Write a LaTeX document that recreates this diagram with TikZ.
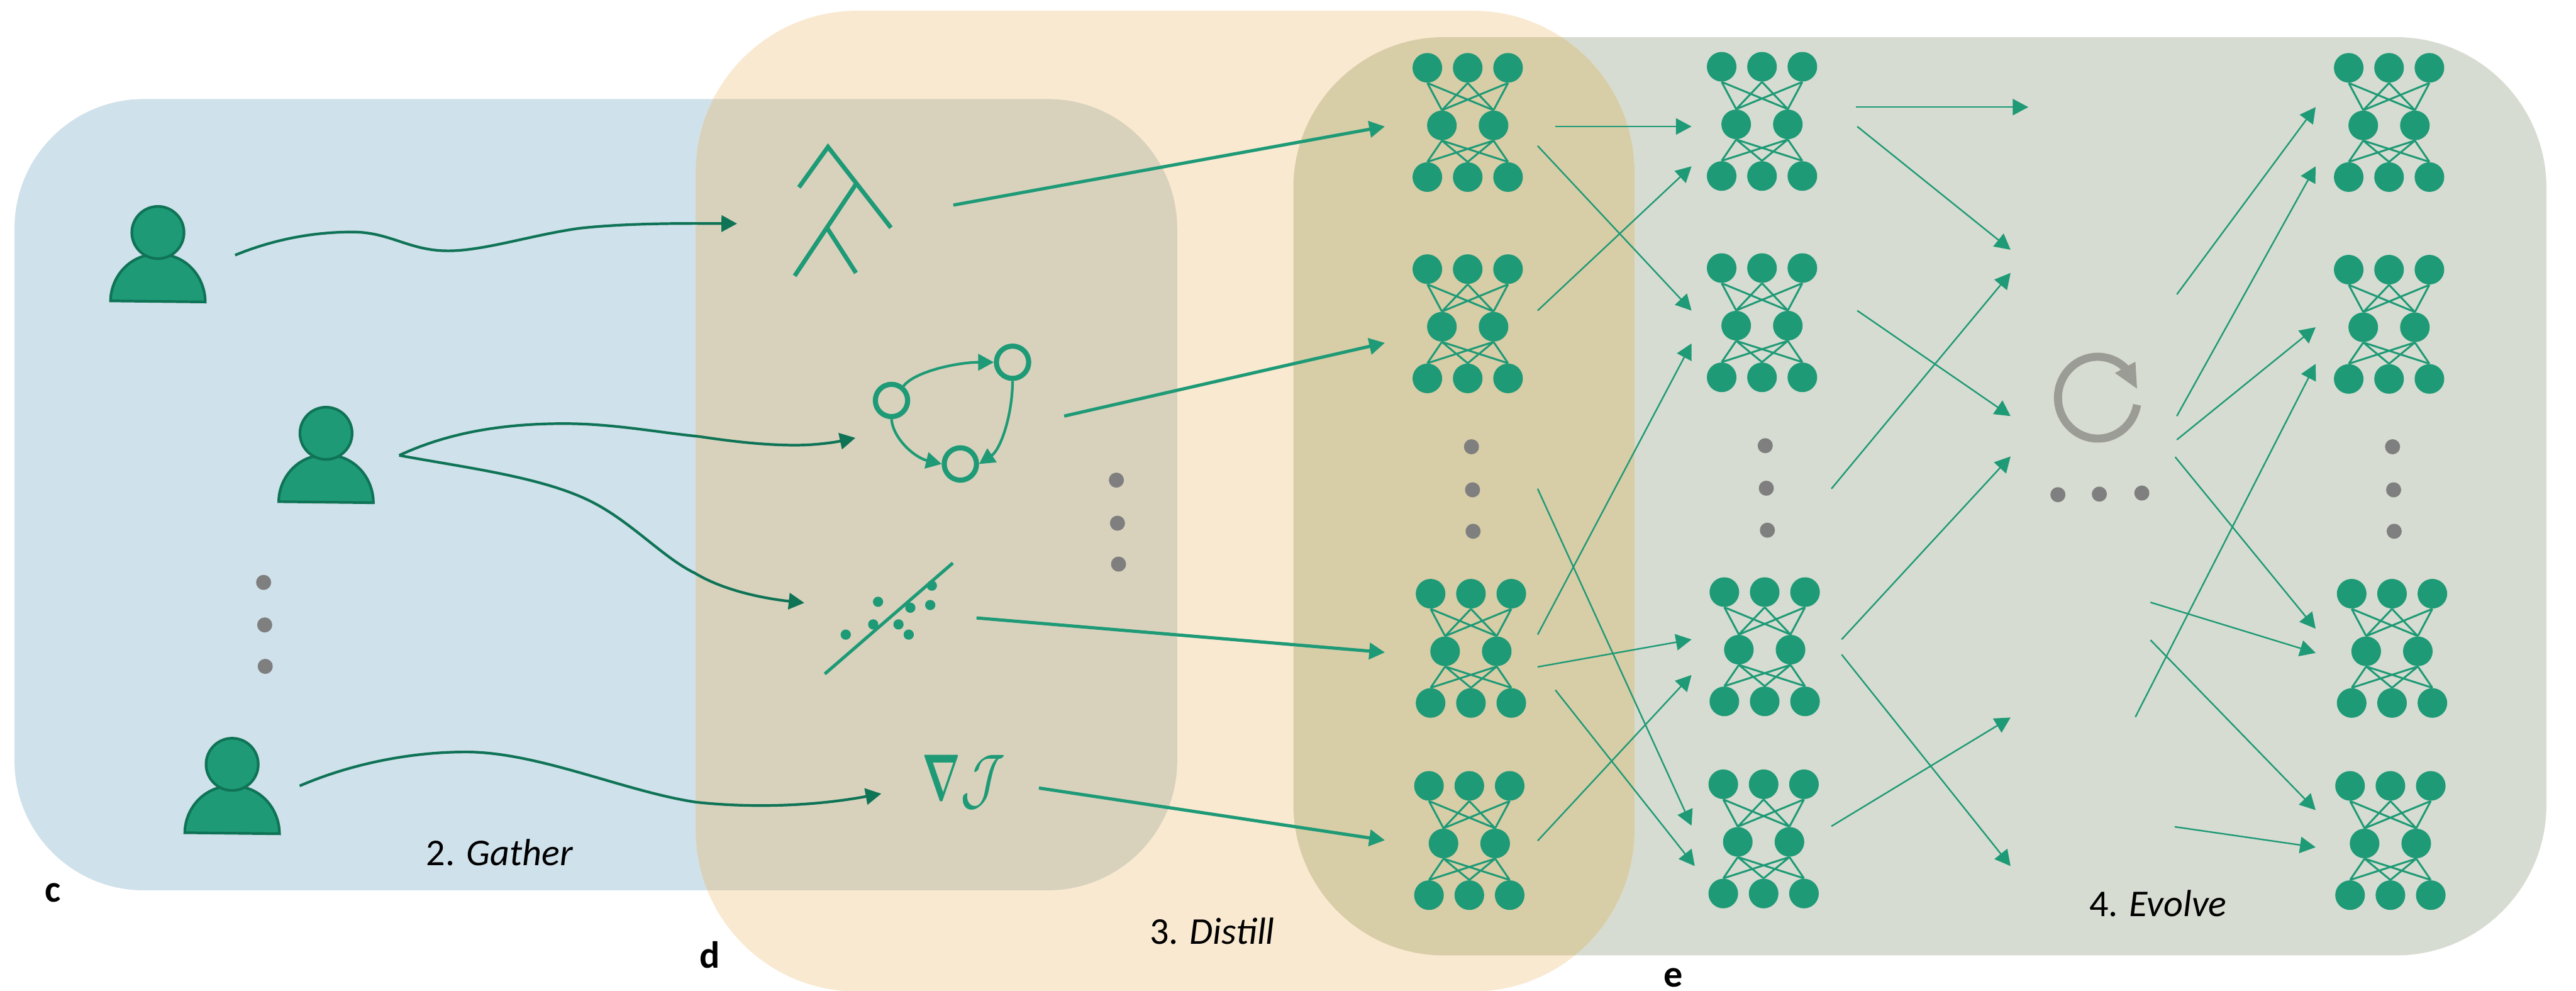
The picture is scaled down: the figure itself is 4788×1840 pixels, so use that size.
\documentclass[tikz,border=0pt]{standalone}
\usepackage{fontspec}
\setmainfont{Carlito}
\usetikzlibrary{arrows.meta}
\definecolor{cblue}{RGB}{207,225,235}
\definecolor{corange}{RGB}{249,233,209}
\definecolor{cgreen}{RGB}{214,220,209}
\definecolor{cbo}{RGB}{216,210,189}
\definecolor{cog}{RGB}{215,205,167}
\definecolor{teal}{RGB}{30,154,118}
\definecolor{darkteal}{RGB}{15,115,85}
\definecolor{dotgray}{RGB}{127,127,127}
\definecolor{loopgray}{RGB}{155,156,149}
\newsavebox{\boldnabla}
\sbox{\boldnabla}{\color{teal}\Huge\boldmath$\nabla$}
\tikzset{
  x=0.01cm,y=-0.01cm,
  tiptri/.tip={Triangle[length=8.25pt,width=8.6pt]},
  thinarr/.style={draw=teal,fill=none,line width=0.8pt,-tiptri},
  thickarr/.style={draw=teal,line width=1.7pt,-tiptri},
  curvearr/.style={draw=darkteal,line width=1.4pt,-tiptri},
  gdot/.style={circle,fill=dotgray,inner sep=0pt,minimum size=0.28cm},
  sdot/.style={circle,fill=teal,inner sep=0pt,minimum size=0.19cm},
  ringnode/.style={circle,draw=teal,line width=2.7pt,inner sep=0pt,minimum size=0.6cm},
  netnode/.style={circle,fill=teal,inner sep=0pt,minimum size=0.55cm},
  netline/.style={draw=teal,line width=1pt},
  treeline/.style={draw=teal,line width=2.3pt},
  graphedge/.style={draw=teal,line width=1.4pt,-tiptri},
  lab/.style={font=\fontsize{20}{24}\selectfont,text=black,inner sep=0pt},
  letter/.style={font=\fontsize{20}{24}\selectfont\bfseries,text=black,inner sep=0pt},
  net/.pic={
    \node[netnode] (t1) at (-75,-107) {};
    \node[netnode] (t2) at (0,-107) {};
    \node[netnode] (t3) at (75,-107) {};
    \node[netnode] (m1) at (-48,0) {};
    \node[netnode] (m2) at (48,0) {};
    \node[netnode] (b1) at (-75,96) {};
    \node[netnode] (b2) at (0,96) {};
    \node[netnode] (b3) at (75,96) {};
    \draw[netline] (t1.south)--(m1.north) (t1.south)--(m2.north)
                   (t2.south)--(m1.north) (t2.south)--(m2.north)
                   (t3.south)--(m1.north) (t3.south)--(m2.north)
                   (m1.south)--(b1.north) (m1.south)--(b2.north) (m1.south)--(b3.north)
                   (m2.south)--(b1.north) (m2.south)--(b2.north) (m2.south)--(b3.north);
  },
  person/.pic={
    \draw[fill=teal,draw=darkteal,line width=1.4pt]
      (-88,127) .. controls (-88,85) and (-55,40) .. (0,40)
      .. controls (55,40) and (88,85) .. (88,129) -- cycle;
    \node[circle,fill=teal,draw=darkteal,line width=1.4pt,inner sep=0pt,minimum size=0.97cm] (head) at (0,0) {};
  }
}
\begin{document}
\begin{tikzpicture}
\useasboundingbox (0,0) rectangle (4788,1840);
% panels
\fill[cblue,rounded corners=2.4cm] (27,184) rectangle (2188,1654);
\fill[cgreen,rounded corners=2.8cm] (2404,69) rectangle (4733,1775);
\fill[corange,rounded corners=3cm] (1293,20) rectangle (3038,1842);
\begin{scope}
  \clip[rounded corners=3cm] (1293,20) rectangle (3038,1842);
  \fill[cbo,rounded corners=2.4cm] (27,184) rectangle (2188,1654);
  \fill[cog,rounded corners=2.8cm] (2404,69) rectangle (4733,1775);
\end{scope}
% persons
\pic (pa) at (293.5,432) {person};
\pic (pb) at (606,805) {person};
\pic (pc) at (431.5,1420) {person};
% grey dots
\node[gdot] (da1) at (490,1082) {};
\node[gdot] (da2) at (492,1161) {};
\node[gdot] (da3) at (493,1238) {};
\node[gdot] (db1) at (2075,892) {};
\node[gdot] (db2) at (2077,972) {};
\node[gdot] (db3) at (2079,1048) {};
\node[gdot] (dc1) at (2735,830) {};
\node[gdot] (dc2) at (2737,910) {};
\node[gdot] (dc3) at (2738,987) {};
\node[gdot] (dd1) at (3281,828) {};
\node[gdot] (dd2) at (3283,907) {};
\node[gdot] (dd3) at (3285,985) {};
\node[gdot] (de1) at (4447,830) {};
\node[gdot] (de2) at (4449,910) {};
\node[gdot] (de3) at (4450,987) {};
\node[gdot] (df1) at (3825,919) {};
\node[gdot] (df2) at (3902,918) {};
\node[gdot] (df3) at (3981,916) {};
% curved connectors
\coordinate (c1s) at (437,474); \coordinate (c1e) at (1370,415.5);
\draw[curvearr] (c1s) .. controls (515,442) and (590,431) .. (655,431)
  .. controls (725,431) and (760,466) .. (833,466)
  .. controls (900,466) and (990,436) .. (1078,424)
  .. controls (1170,414) and (1280,415) .. (c1e);
\coordinate (c2s) at (742,846); \coordinate (c2e) at (1590,813.5);
\draw[curvearr] (c2s) .. controls (830,805) and (930,787) .. (1048,787)
  .. controls (1140,787) and (1220,803) .. (1300,811)
  .. controls (1360,820) and (1420,827) .. (1478,827)
  .. controls (1520,827) and (1555,821) .. (c2e);
\coordinate (c3e) at (1495,1120);
\draw[curvearr] (c2s) .. controls (860,868) and (1000,885) .. (1091,928)
  .. controls (1170,965) and (1230,1035) .. (1292,1065)
  .. controls (1350,1100) and (1430,1113) .. (c3e);
\coordinate (c4s) at (557,1460); \coordinate (c4e) at (1638,1474.5);
\draw[curvearr] (c4s) .. controls (650,1420) and (760,1397) .. (866,1397)
  .. controls (1000,1397) and (1160,1470) .. (1292,1490)
  .. controls (1380,1500) and (1500,1500) .. (c4e);
% tree icon
\coordinate (ta) at (1539,273);
\coordinate (tb) at (1485,348);
\coordinate (tc) at (1656,423);
\coordinate (td) at (1590,343.5);
\coordinate (te) at (1477,512.5);
\coordinate (tf) at (1538,424.5);
\coordinate (tg) at (1591,507);
\draw[treeline] (tb) -- (ta) -- (tc) (td) -- (te) (tf) -- (tg);
% graph icon
\node[ringnode] (ga) at (1657,744) {};
\node[ringnode] (gb) at (1882,673) {};
\node[ringnode] (gc) at (1785,862) {};
\draw[graphedge] (ga.50) .. controls (1700,690) and (1780,673) .. (gb.west);
\draw[graphedge] (gb.south) .. controls (1882,770) and (1860,835) .. (gc.east);
\draw[graphedge] (ga.south) .. controls (1660,815) and (1700,850) .. (gc.west);
% scatter icon
\coordinate (sa) at (1533,1252); \coordinate (sb) at (1771,1046);
\draw[draw=teal,line width=1.7pt] (sa) -- (sb);
\node[sdot] (s1) at (1632,1118) {};
\node[sdot] (s2) at (1732,1088) {};
\node[sdot] (s3) at (1692,1129) {};
\node[sdot] (s4) at (1729,1124) {};
\node[sdot] (s5) at (1623,1160) {};
\node[sdot] (s6) at (1670,1160) {};
\node[sdot] (s7) at (1689,1179) {};
\node[sdot] (s8) at (1572,1179) {};
% gradient icon
\node[text=teal,inner sep=0pt,font=\Huge] (grad) at (1791,1453)
  {\raisebox{1pt}{\scalebox{0.85}[1.39]{\usebox{\boldnabla}}}\scalebox{1.1}[1.45]{$\mathcal{J}$}};
% loop icon
\coordinate (lc) at (3900,739);
\draw[draw=loopgray,line width=4.27pt] (3972,752) arc[start angle=10,end angle=318,x radius=74,y radius=76];
\coordinate (la) at (3969,672); \coordinate (lb) at (3972,722); \coordinate (ld) at (3931,693);
\fill[loopgray] (la) -- (lb) -- (ld) -- cycle;
% networks
\pic (na) at (2728,233) {net};
\pic (nb) at (2728,607) {net};
\pic (nc) at (2734,1210) {net};
\pic (nd) at (2731,1567) {net};
\pic (ne) at (3275,231) {net};
\pic (nf) at (3275,605) {net};
\pic (ng) at (3280,1207) {net};
\pic (nh) at (3278,1564) {net};
\pic (ni) at (4440.5,233) {net};
\pic (nj) at (4440.5,608) {net};
\pic (nk) at (4446,1210) {net};
\pic (nl) at (4443,1567) {net};
% thick connectors
\coordinate (k1s) at (1772,381); \coordinate (k1e) at (2574,235);
\draw[thickarr] (k1s) -- (k1e);
\coordinate (k2s) at (1978,773); \coordinate (k2e) at (2574,637);
\draw[thickarr] (k2s) -- (k2e);
\coordinate (k3s) at (1815,1148); \coordinate (k3e) at (2574,1212);
\draw[thickarr] (k3s) -- (k3e);
\coordinate (k4s) at (1931,1464); \coordinate (k4e) at (2574,1561);
\draw[thickarr] (k4s) -- (k4e);
% thin connectors, first to second column
\coordinate (a1) at (2891,235); \coordinate (a2) at (3144,235); \draw[thinarr] (a1) -- (a2);
\coordinate (b1) at (2858,271); \coordinate (b2) at (3144,577); \draw[thinarr] (b1) -- (b2);
\coordinate (e1) at (2858,577); \coordinate (e2) at (3144,309); \draw[thinarr] (e1) -- (e2);
\coordinate (d1) at (2858,908); \coordinate (d2) at (3144,1534); \draw[thinarr] (d1) -- (d2);
\coordinate (f1) at (2858,1179); \coordinate (f2) at (3144,638); \draw[thinarr] (f1) -- (f2);
\coordinate (g1) at (2858,1239); \coordinate (g2) at (3144,1188); \draw[thinarr] (g1) -- (g2);
\coordinate (h1) at (2891,1282); \coordinate (h2) at (3150,1609); \draw[thinarr] (h1) -- (h2);
\coordinate (i1) at (2858,1562); \coordinate (i2) at (3144,1254); \draw[thinarr] (i1) -- (i2);
% thin connectors, second column to loop
\coordinate (j1) at (3449,199); \coordinate (j2) at (3770,199); \draw[thinarr] (j1) -- (j2);
\coordinate (l1) at (3452,235); \coordinate (l2) at (3737,464); \draw[thinarr] (l1) -- (l2);
\coordinate (m1) at (3452,577); \coordinate (m2) at (3737,773); \draw[thinarr] (m1) -- (m2);
\coordinate (o1) at (3404,908); \coordinate (o2) at (3737,507); \draw[thinarr] (o1) -- (o2);
\coordinate (q1) at (3423,1188); \coordinate (q2) at (3737,848); \draw[thinarr] (q1) -- (q2);
\coordinate (r1) at (3423,1216); \coordinate (r2) at (3737,1609); \draw[thinarr] (r1) -- (r2);
\coordinate (u1) at (3404,1535); \coordinate (u2) at (3737,1333); \draw[thinarr] (u1) -- (u2);
% thin connectors, loop to third column
\coordinate (v1) at (4046,547); \coordinate (v2) at (4304,199); \draw[thinarr] (v1) -- (v2);
\coordinate (w1) at (4046,773); \coordinate (w2) at (4304,309); \draw[thinarr] (w1) -- (w2);
\coordinate (x1) at (4046,817); \coordinate (x2) at (4304,608); \draw[thinarr] (x1) -- (x2);
\coordinate (y1) at (4043,849); \coordinate (y2) at (4304,1168); \draw[thinarr] (y1) -- (y2);
\coordinate (z1) at (3969,1332); \coordinate (z2) at (4304,676); \draw[thinarr] (z1) -- (z2);
\coordinate (aa1) at (3997,1119); \coordinate (aa2) at (4304,1213); \draw[thinarr] (aa1) -- (aa2);
\coordinate (ab1) at (3997,1189); \coordinate (ab2) at (4304,1505); \draw[thinarr] (ab1) -- (ab2);
\coordinate (ac1) at (4042,1536); \coordinate (ac2) at (4304,1574); \draw[thinarr] (ac1) -- (ac2);
% labels
\node[lab] (l2g) at (929,1584) {2. \textit{Gather}};
\node[lab] (l3d) at (2253,1730) {3. \textit{Distill}};
\node[lab] (l4e) at (4011,1678) {4. \textit{Evolve}};
\node[letter] (lc1) at (98,1659) {c};
\node[letter] (ld1) at (1319,1774) {d};
\node[letter] (le1) at (3110,1816) {e};
\end{tikzpicture}
\end{document}
